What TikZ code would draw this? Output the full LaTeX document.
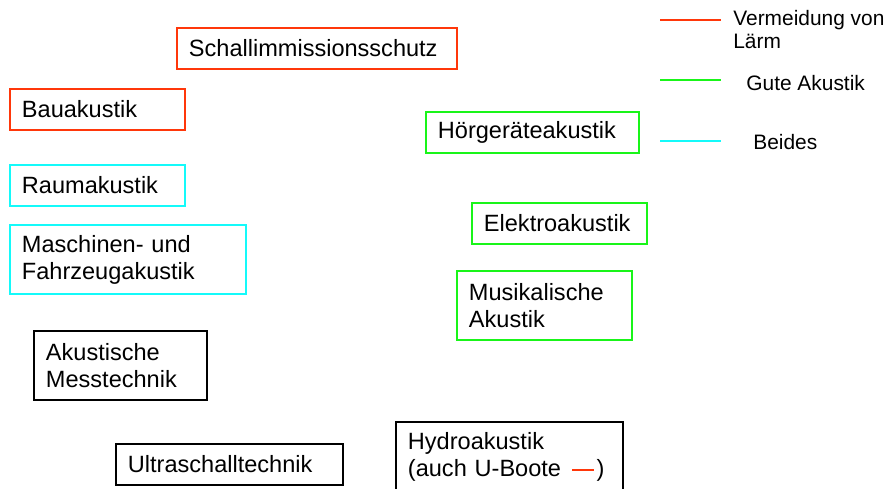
\documentclass[tikz,border=0pt]{standalone}
\usepackage{fontspec}
\setmainfont{Liberation Sans}
\usepackage{tikz}
\usetikzlibrary{calc}
\definecolor{lred}{RGB}{255,55,10}
\definecolor{lgreen}{RGB}{25,245,25}
\definecolor{lcyan}{RGB}{20,250,250}
\newcommand{\boxfont}{\fontsize{13.4pt}{15.6pt}\selectfont}
\newcommand{\legfont}{\fontsize{11.9pt}{13pt}\selectfont}

\begin{document}
\begin{tikzpicture}
[x=0.02cm, y=-0.02cm,
 box/.style={draw, line width=1.1pt, anchor=north west, inner xsep=0.24cm, inner ysep=0pt, align=left, font=\boxfont},
 short/.style={minimum height=0.82cm},
 tall/.style={minimum height=1.39cm},
 leg/.style={inner sep=0pt, align=left, font=\legfont},
 legline/.style={line width=0.6pt}]
    \useasboundingbox (0,0) rectangle (892,489);
    % left column
    \node[box, short, lred, text=black, text width=5.12cm] (S) at (176,27) {Schallimmissionsschutz};
    \node[box, short, lred, text=black, text width=3.02cm] (B) at (9,88) {Bauakustik};
    \node[box, short, lcyan, text=black, text width=3.02cm] (R) at (9,164) {Raumakustik};
    \node[box, tall, lcyan, text=black, text width=4.24cm] (MF) at (9,224) {Maschinen- und\\Fahrzeugakustik};
    \node[box, tall, black, text width=2.98cm] (AM) at (33,330) {Akustische\\Messtechnik};
    \node[box, short, black, text width=4.06cm] (U) at (115,443) {Ultraschalltechnik};
    \node[box, tall, black, text width=4.06cm] (H) at (395,421)
        {Hydroakustik\\(auch U-Boote\hspace{0.22cm}\textcolor{lred}{\rule[0.12cm]{0.44cm}{0.6pt}}\hspace{0.05cm})};
    % right column
    \node[box, short, lgreen, text=black, text width=3.78cm] (HG) at (425,111) {Hörgeräteakustik};
    \node[box, short, lgreen, text=black, text width=3.02cm] (E) at (471,202) {Elektroakustik};
    \node[box, tall, lgreen, text=black, text width=3.02cm] (MA) at (456,270) {Musikalische\\Akustik};
    % legend
    \coordinate (r1) at (660,20);  \coordinate (r2) at (721,20);
    \coordinate (g1) at (660,80);  \coordinate (g2) at (721,80);
    \coordinate (c1) at (660,141); \coordinate (c2) at (721,141);
    \draw[legline, lred] (r1) -- (r2);
    \draw[legline, lgreen] (g1) -- (g2);
    \draw[legline, lcyan] (c1) -- (c2);
    \node[leg, anchor=north west] (LR) at (733,10) {Vermeidung von\\Lärm};
    \node[leg, anchor=base west] (LG) at (746,91) {Gute Akustik};
    \node[leg, anchor=base west] (LC) at (753,150) {Beides};
\end{tikzpicture}
\end{document}
